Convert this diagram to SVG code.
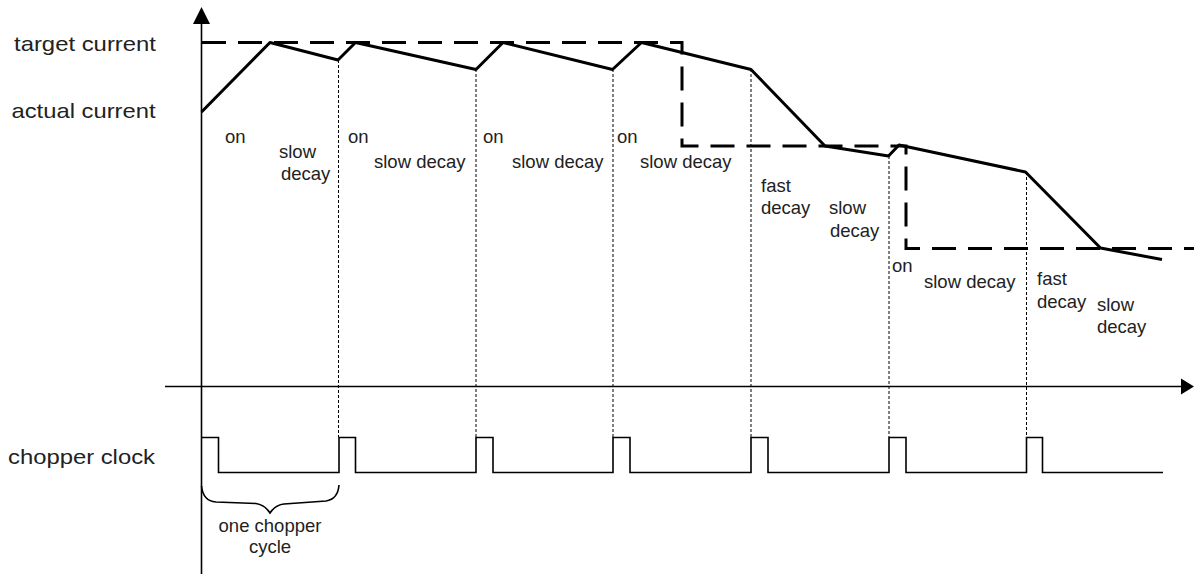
<svg xmlns="http://www.w3.org/2000/svg" width="1194" height="574" viewBox="0 0 1194 574">
  <style>
    .lbl { font-family: "Liberation Sans", Arial, sans-serif; font-size: 21px; fill: #222; }
    .sm { font-family: "Liberation Sans", Arial, sans-serif; font-size: 18.5px; fill: #222; }
    .axis { stroke: #000; stroke-width: 1.6; fill: none; }
    .target { stroke: #000; stroke-width: 3; fill: none; stroke-dasharray: 24 12; }
    .actual { stroke: #000; stroke-width: 3; fill: none; stroke-linejoin: round; }
    .div { stroke: #000; stroke-width: 1; fill: none; stroke-dasharray: 3 2; }
    .clock { stroke: #000; stroke-width: 1.6; fill: none; }
  </style>
  <rect width="1194" height="574" fill="#fff"/>

  <g id="axes">
    <line class="axis" x1="201.5" y1="20" x2="201.5" y2="574"/>
    <polygon points="201.5,7 193,24 210,24" fill="#000"/>
    <line class="axis" x1="165" y1="386.5" x2="1183" y2="386.5"/>
    <polygon points="1194,386.5 1181,378.5 1181,394.5" fill="#000"/>
  </g>

  <g id="dividers">
    <line class="div" x1="338.5" y1="60" x2="338.5" y2="437"/>
    <line class="div" x1="476" y1="69" x2="476" y2="437"/>
    <line class="div" x1="613" y1="69" x2="613" y2="437"/>
    <line class="div" x1="751" y1="69" x2="751" y2="437"/>
    <line class="div" x1="889" y1="156" x2="889" y2="437"/>
    <line class="div" x1="1026.5" y1="172" x2="1026.5" y2="437"/>
  </g>

  <g id="target-current">
    <path class="target" d="M202,42.5 H682 V146 H906 V248.5 H1194"/>
  </g>

  <g id="actual-current">
    <path class="actual" d="M201.5,112 L270,42.5 L338,60 L355.5,42.5 L476,69.5 L503,42.5 L612.5,69.5 L641.5,42.5 L751,69.5 L825,146 L888.5,156 L899,145 L1025.5,172 L1100.5,248 L1162,259.5"/>
  </g>

  <g id="chopper-clock">
    <path class="clock" d="M201.5,437.5 H218.5 V472.5 H339 V437.5 H355.5 V472.5 H476 V437.5 H493 V472.5 H613 V437.5 H630 V472.5 H751 V437.5 H768 V472.5 H889 V437.5 H906 V472.5 H1026.5 V437.5 H1042.5 V472.5 H1163"/>
  </g>

  <g id="cycle-brace">
    <path class="clock" d="M201.5,486 Q203,501 216,502 L256,503.5 Q265,505 270,513 Q275,505 284,504 L326,501 Q338,499 339,485"/>
  </g>

  <g id="axis-labels">
    <text class="lbl" x="14" y="51" textLength="142" lengthAdjust="spacingAndGlyphs">target current</text>
    <text class="lbl" x="11.5" y="118" textLength="144" lengthAdjust="spacingAndGlyphs">actual current</text>
    <text class="lbl" x="8" y="464" textLength="147" lengthAdjust="spacingAndGlyphs">chopper clock</text>
  </g>

  <g id="phase-labels">
    <text class="sm" x="225" y="142.5">on</text>
    <text class="sm" x="279" y="157.5">slow</text>
    <text class="sm" x="281" y="180">decay</text>
    <text class="sm" x="348" y="142.5">on</text>
    <text class="sm" x="374" y="168">slow decay</text>
    <text class="sm" x="483" y="142.5">on</text>
    <text class="sm" x="512" y="168">slow decay</text>
    <text class="sm" x="617" y="142.5">on</text>
    <text class="sm" x="640" y="168">slow decay</text>
    <text class="sm" x="761" y="191.5">fast</text>
    <text class="sm" x="761" y="213.5">decay</text>
    <text class="sm" x="829" y="214">slow</text>
    <text class="sm" x="830" y="236.5">decay</text>
    <text class="sm" x="892" y="271.5">on</text>
    <text class="sm" x="924" y="288">slow decay</text>
    <text class="sm" x="1037" y="285">fast</text>
    <text class="sm" x="1037" y="307.5">decay</text>
    <text class="sm" x="1097" y="310.5">slow</text>
    <text class="sm" x="1097" y="333">decay</text>
  </g>

  <g id="cycle-label">
    <text class="sm" x="270" y="532" text-anchor="middle" font-size="16.5">one chopper</text>
    <text class="sm" x="270" y="553" text-anchor="middle" font-size="16.5">cycle</text>
  </g>
</svg>
